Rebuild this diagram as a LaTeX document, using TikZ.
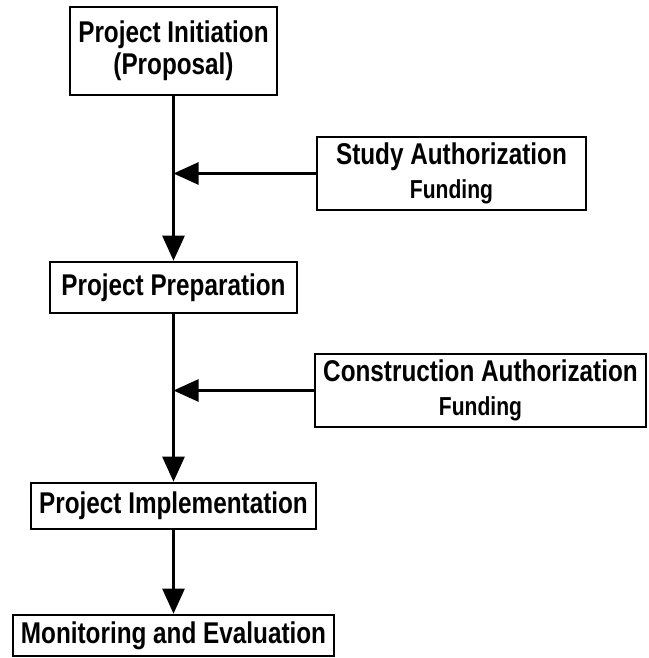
\documentclass[tikz,border=0pt]{standalone}
\usepackage{fontspec}
\setmainfont{Liberation Sans}[FakeStretch=0.81]
\usetikzlibrary{arrows.meta}
\tikzset{stage/.style = {rectangle, line width=2.6pt, draw=black, align=center, inner sep=0pt, font=\fontsize{30pt}{32pt}\selectfont\bfseries}}
\tikzset{arrow/.style = {line width=2.6pt, -{Triangle[length=25pt,width=22pt]}}}
\newcommand{\fundline}{{\fontsize{26pt}{26pt}\selectfont Funding}}

\begin{document}
\begin{tikzpicture}[node distance=220pt]
	\useasboundingbox (0,0) rectangle (648pt,-658pt);
	\node (init) 	[stage, minimum width=207pt, minimum height=88pt] at (173.5pt,-51pt)	{Project Initiation\\(Proposal)};
	\node (prep) 	[stage, minimum width=247pt, minimum height=51pt, below of=init, yshift=-16.5pt]	{Project Preparation};
	\node (impl) 	[stage, minimum width=285pt, minimum height=46pt, below of=prep, yshift=1.5pt]	{Project Implementation};
	\node (mon) 	[stage, minimum width=321pt, minimum height=41pt, below of=impl, yshift=90.5pt]	{Monitoring and Evaluation};
	\node (study) 	[stage, minimum width=269pt, minimum height=73pt, right of=init, xshift=58pt, yshift=-122.5pt]	{Study Authorization\\[2pt]\fundline};
	\node (constr) 	[stage, minimum width=331pt, minimum height=73pt, right of=prep, xshift=87pt, yshift=-103pt]	{Construction Authorization\\[2pt]\fundline};

	\draw [arrow] (init) 	-- (prep);
	\draw [arrow] (prep) 	-- (impl);
	\draw [arrow] (impl) 	-- (mon);

	\draw [arrow] (study) 	-- (study -| init);
	\draw [arrow] (constr) 	-- (constr -| prep);
\end{tikzpicture}
\end{document}
